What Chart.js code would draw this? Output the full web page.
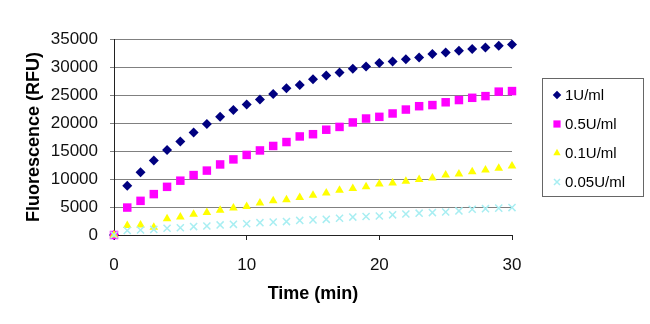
<!DOCTYPE html>
<html>
<head>
<meta charset="utf-8">
<script src="https://cdn.jsdelivr.net/npm/chart.js@4/dist/chart.umd.min.js"></script>
<style>
  html, body { margin: 0; padding: 0; background: #fff; }
  #wrap { width: 650px; height: 324px; position: relative; }
</style>
</head>
<body>
<div id="wrap"><canvas id="kineticsChart"></canvas></div>
<script>
const minutes = [0, 1, 2, 3, 4, 5, 6, 7, 8, 9, 10, 11, 12, 13, 14, 15, 16, 17, 18, 19, 20, 21, 22, 23, 24, 25, 26, 27, 28, 29, 30];

const seriesLabels = ["1U/ml", "0.5U/ml", "0.1U/ml", "0.05U/ml"];

const rfu1 = [0, 8800, 11200, 13300, 15200, 16700, 18300, 19800, 21100, 22300, 23300, 24200, 25200, 26200, 26800, 27800, 28500, 29000, 29700, 30100, 30700, 31000, 31400, 31700, 32300, 32600, 32900, 33200, 33500, 33800, 34000];
const rfu05 = [0, 4900, 6100, 7300, 8600, 9700, 10700, 11500, 12600, 13500, 14300, 15100, 15900, 16600, 17600, 18000, 18800, 19300, 20100, 20800, 21100, 21700, 22400, 23000, 23200, 23700, 24100, 24500, 24800, 25600, 25700];
const rfu01 = [0, 1700, 1800, 1400, 2900, 3200, 3700, 4000, 4400, 4800, 5100, 5700, 6100, 6300, 6700, 7100, 7500, 8000, 8300, 8600, 9100, 9300, 9600, 9900, 10200, 10700, 10900, 11300, 11600, 11900, 12300];
const rfu005 = [0, 800, 900, 1000, 1200, 1300, 1500, 1600, 1800, 1900, 2000, 2200, 2300, 2400, 2600, 2700, 2800, 3000, 3200, 3300, 3400, 3600, 3750, 3900, 4000, 4100, 4300, 4600, 4700, 4800, 4900];

const FONT = "'Liberation Sans', Arial, sans-serif";

function points(values) {
  return minutes.map((m, i) => ({ x: m, y: values[i] }));
}

// Excel style legend: boxed, to the right of the plot
const boxedLegend = {
  id: "boxedLegend",
  afterDraw(chart) {
    const ctx = chart.ctx;
    const left = 542, top = 78, width = 101, height = 118;
    ctx.save();
    ctx.strokeStyle = "#666";
    ctx.lineWidth = 1;
    ctx.strokeRect(left + 0.5, top + 0.5, width, height);

    chart.data.datasets.forEach((ds, i) => {
      const y = top + 17 + i * 29;
      const opts = {
        pointStyle: ds.pointStyle,
        radius: ds.pointRadius * 0.85,
        rotation: 0,
        borderWidth: ds.pointBorderWidth,
      };
      ctx.fillStyle = ds.pointBackgroundColor;
      ctx.strokeStyle = ds.pointBorderColor;
      ctx.lineWidth = ds.pointBorderWidth;
      Chart.helpers.drawPoint(ctx, opts, left + 15, y);

      ctx.fillStyle = "#000";
      ctx.font = "15px " + FONT;
      ctx.textBaseline = "middle";
      ctx.textAlign = "left";
      ctx.fillText(ds.label, left + 23, y + 1);
    });
    ctx.restore();
  },
};

new Chart(document.getElementById("kineticsChart"), {
  type: "scatter",
  data: {
    datasets: [
      {
        label: seriesLabels[0],
        data: points(rfu1),
        pointStyle: "rectRot",
        pointRadius: 5,
        pointBackgroundColor: "#000080",
        pointBorderColor: "#000080",
        pointBorderWidth: 0,
        order: 4,
      },
      {
        label: seriesLabels[1],
        data: points(rfu05),
        pointStyle: "rect",
        pointRadius: 6,
        pointBackgroundColor: "#ff00ff",
        pointBorderColor: "#ff00ff",
        pointBorderWidth: 0,
        order: 3,
      },
      {
        label: seriesLabels[2],
        data: points(rfu01),
        pointStyle: "triangle",
        pointRadius: 5,
        pointBackgroundColor: "#ffff00",
        pointBorderColor: "#ffff00",
        pointBorderWidth: 0,
        order: 2,
      },
      {
        label: seriesLabels[3],
        data: points(rfu005),
        pointStyle: "crossRot",
        pointRadius: 5,
        pointBackgroundColor: "#a8eef2",
        pointBorderColor: "#a8eef2",
        pointBorderWidth: 1.5,
        order: 1,
      },
    ],
  },
  options: {
    responsive: true,
    maintainAspectRatio: false,
    animation: false,
    clip: false,
    layout: {
      padding: { top: 39, right: 138, bottom: 0, left: 0 },
    },
    plugins: {
      legend: { display: false },
      tooltip: { enabled: false },
    },
    scales: {
      x: {
        type: "linear",
        min: 0,
        max: 30,
        afterFit(scale) {
          scale.height = 89;
        },
        ticks: {
          stepSize: 10,
          color: "#111",
          padding: 15,
          font: { family: FONT, size: 17 },
        },
        grid: {
          drawOnChartArea: false,
          drawTicks: true,
          tickLength: 5,
          color: "#222",
        },
        border: { color: "#222", width: 1 },
        title: {
          display: true,
          text: "Time (min)",
          color: "#000",
          font: { family: FONT, size: 18, weight: "bold" },
          padding: { top: 0, bottom: 19 },
        },
      },
      y: {
        min: 0,
        max: 35000,
        afterFit(scale) {
          scale.width = 114;
        },
        ticks: {
          stepSize: 5000,
          color: "#111",
          padding: 12,
          font: { family: FONT, size: 17 },
          callback: (v) => String(v),
        },
        grid: {
          color: "#808080",
          tickLength: 4,
          drawTicks: true,
        },
        border: { color: "#222", width: 1 },
        title: {
          display: true,
          text: "Fluorescence (RFU)",
          color: "#000",
          font: { family: FONT, size: 18, weight: "bold" },
          padding: { top: 23, bottom: 0 },
        },
      },
    },
  },
  plugins: [boxedLegend],
});
</script>
</body>
</html>
